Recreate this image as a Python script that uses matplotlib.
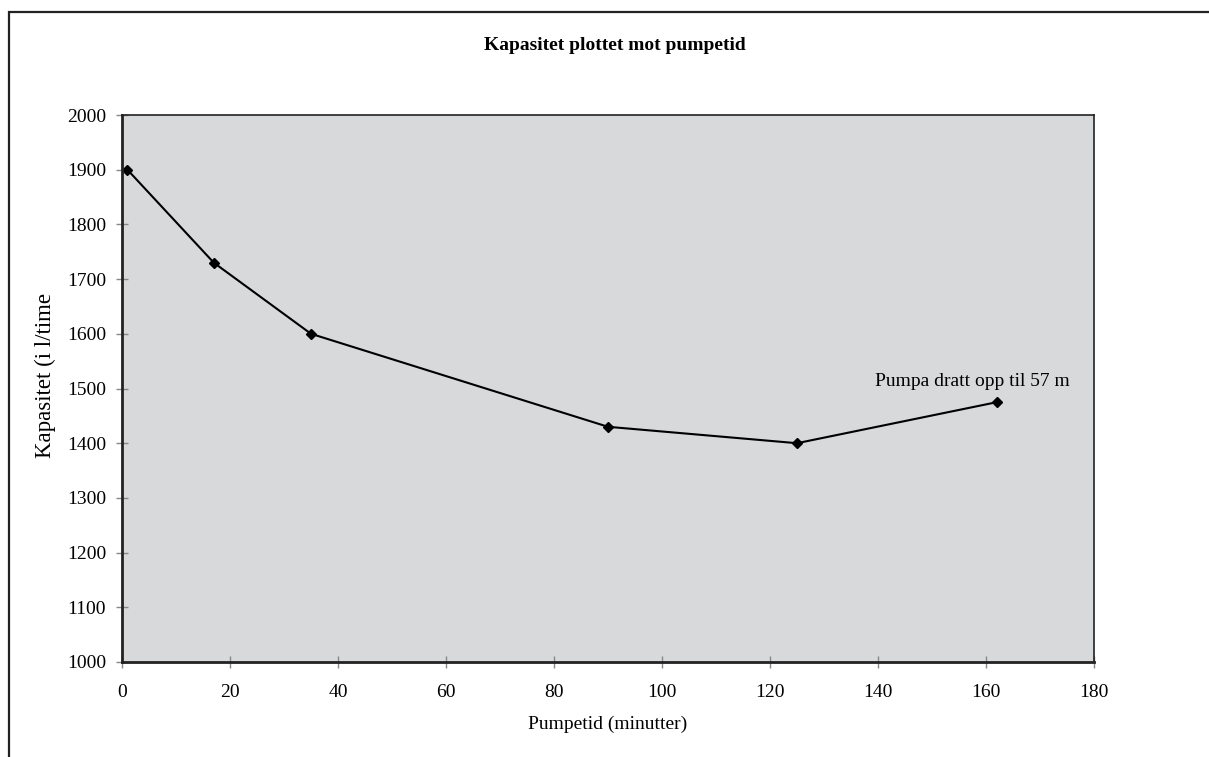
import matplotlib.pyplot as plt
from matplotlib.patches import Rectangle

# data
pumpetid = [1, 17, 35, 90, 125, 162]
kapasitet = [1900, 1730, 1600, 1430, 1400, 1475]
x_ticks = [0, 20, 40, 60, 80, 100, 120, 140, 160, 180]
y_ticks = [1000, 1100, 1200, 1300, 1400, 1500, 1600, 1700, 1800, 1900, 2000]

plt.rcParams['font.family'] = ['Liberation Serif', 'DejaVu Serif']

fig = plt.figure(figsize=(12.09, 7.57), dpi=100)
fig.patch.set_facecolor('white')

# outer frame of the chart area (runs off the right and bottom edge)
fig.patches.append(Rectangle((9 / 1209, -0.05), 1.2, 1 - 12 / 757 + 0.05,
                             transform=fig.transFigure, fill=False,
                             edgecolor='#222222', linewidth=1.6, zorder=0))

ax = fig.add_axes([122 / 1209, 1 - 662 / 757, 972 / 1209, 547 / 757])
ax.set_facecolor('#d7d9da')

ax.plot(pumpetid, kapasitet, color='black', linewidth=1.5,
        marker='D', markersize=5.5, markerfacecolor='black')

ax.annotate('Pumpa dratt opp til 57 m', xy=(pumpetid[-1], kapasitet[-1]),
            xytext=(-24, 12), textcoords='offset pixels',
            ha='center', va='bottom', fontsize=14)

ax.set_xlim(0, 180)
ax.set_ylim(1000, 2000)
ax.set_xticks(x_ticks)
ax.set_yticks(y_ticks)
ax.tick_params(direction='inout', length=9, width=1, color='#888888',
               labelsize=14)
ax.tick_params(axis='x', pad=11)
ax.tick_params(axis='y', pad=7)

for side in ['left', 'bottom']:
    ax.spines[side].set_linewidth(2)
for side in ['top', 'right']:
    ax.spines[side].set_linewidth(1.2)
for s in ax.spines.values():
    s.set_color('#222222')

ax.set_xlabel('Pumpetid (minutter)', fontsize=14, labelpad=11)
ax.set_ylabel('Kapasitet (i l/time', fontsize=16.5, va='center')
ax.yaxis.set_label_coords(-0.079, 0.523)
fig.text(615 / 1209, 1 - 45 / 757, 'Kapasitet plottet mot pumpetid',
         ha='center', va='center', fontsize=14, fontweight='bold')

fig.savefig('out.png', dpi=100)
